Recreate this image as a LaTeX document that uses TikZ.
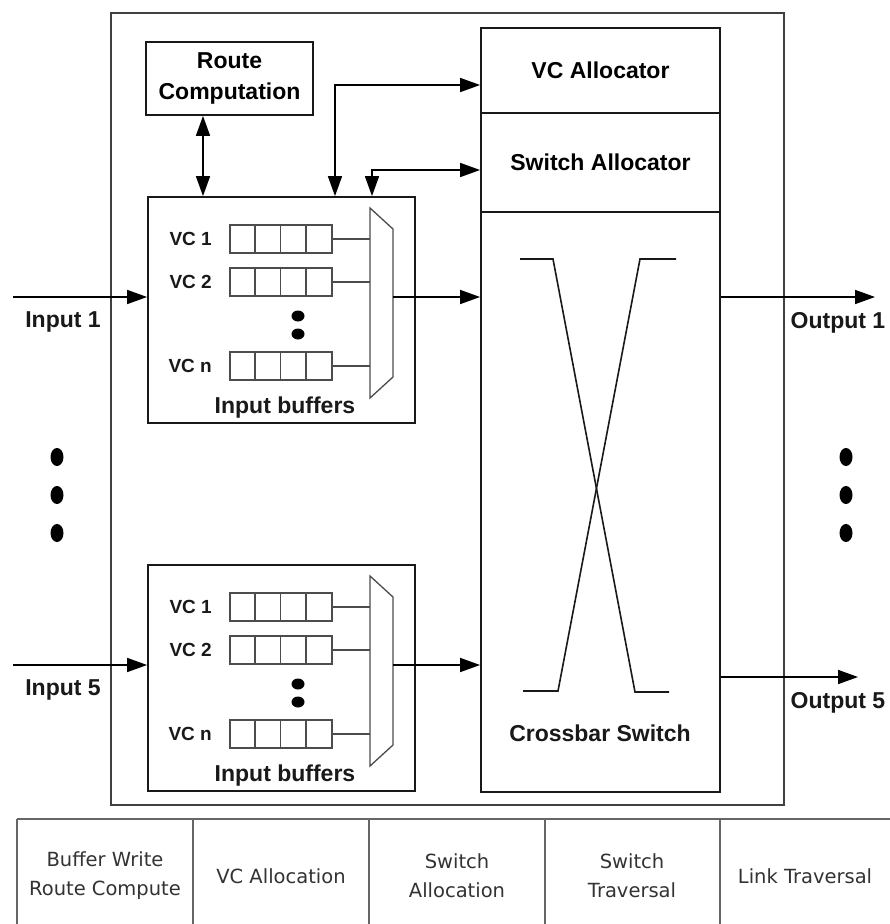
\documentclass[tikz,border=0pt]{standalone}
\usepackage{fontspec}
\setmainfont{Liberation Sans}
\newfontfamily\stagefont{DejaVu Sans}
\usetikzlibrary{positioning, calc, arrows.meta}

\newcommand{\lblfont}{\fontsize{23}{31}\selectfont\bfseries}
\newcommand{\vcfont}{\fontsize{19}{22}\selectfont\bfseries}

\begin{document}
\begin{tikzpicture}[x=1pt, y=-1pt,
    blockbox/.style={draw=black!90, line width=1.8pt, inner sep=0pt, align=center, font=\lblfont},
    queuebox/.style={draw=black!70, line width=1.3pt, minimum width=102pt, minimum height=28pt, inner sep=0pt},
    thinline/.style={draw=black!70, line width=1.3pt},
    wire/.style={draw=black!90, line width=1.6pt},
    tableline/.style={draw=black!60, line width=1.4pt},
    arrowline/.style={line width=1.6pt, -{Triangle[length=20pt,width=14pt]}},
    dblarrow/.style={line width=1.6pt, {Triangle[length=20pt,width=14pt]}-{Triangle[length=20pt,width=14pt]}},
    plainlabel/.style={font=\lblfont, inner sep=0pt, text=black!90},
    vclabel/.style={font=\vcfont, anchor=east, inner sep=0pt, text=black!90},
    stagecell/.style={font=\stagefont\fontsize{19.5}{29}\selectfont, text=black!80, align=center, inner sep=0pt}
  ]
  \useasboundingbox[fill=white] (0,0) rectangle (890,924);

  % Router
  \node[draw=black!75, line width=2.6pt, minimum width=673pt, minimum height=792pt, inner sep=0pt] (router) at (447.5,409) {};

  \node[blockbox, minimum width=167pt, minimum height=73pt] (route) at (229.5,78.5) {Route\\Computation};

  % Allocators and crossbar
  \node[blockbox, minimum width=239pt, minimum height=85pt] (vcalloc) at (600.5,70.5) {VC Allocator};
  \node[blockbox, minimum width=239pt, minimum height=99pt] (swalloc) at (600.5,162.5) {Switch Allocator};
  \node[blockbox, minimum width=239pt, minimum height=580pt] (xbar) at (600.5,502) {};
  \node[plainlabel] (xbarlbl) at (600,733) {Crossbar Switch};

  \draw[wire] (520,259) -- (553,259) -- (635,692) -- (669,692);
  \draw[wire] (676,259) -- (640,259) -- (558,691) -- (523,691);

  % Input ports
  \foreach \b/\oy/\n in {1/0/1, 2/368/5} {
    \node[blockbox, minimum width=267pt, minimum height=226pt] (buf\b) at (281.5,310+\oy) {};
    \node[plainlabel] (buflbl\b) at (285,408+\oy) {Input buffers};

    \foreach \r/\y/\txt in {1/239/VC 1, 2/282/VC 2, n/366/VC n} {
      \node[queuebox] (q\b\r) at (281,\y+\oy) {};
      \foreach \c in {1,2,3}
        \draw[thinline] ($(q\b\r.north west)+(\c*25.5,0)$) -- ($(q\b\r.south west)+(\c*25.5,0)$);
      \node[vclabel] (vc\b\r) at (212,\y+\oy) {\txt};
    }

    \fill (298,316+\oy) ellipse [x radius=6.5pt, y radius=5.5pt];
    \fill (298,334+\oy) ellipse [x radius=6.5pt, y radius=5.5pt];

    % mux
    \draw[thinline] (370,208+\oy) -- (393,229+\oy) -- (393,377+\oy) -- (370,398+\oy) -- cycle;
    \coordinate (muxin\b) at (370,297+\oy);
    \coordinate (muxout\b) at (393,297+\oy);
    \foreach \r in {1,2,n}
      \draw[thinline] (q\b\r.east) -- (q\b\r.east -| muxin\b);
    \draw[arrowline] (muxout\b) -- (muxout\b -| xbar.west);

    \coordinate (in\b) at (13,297+\oy);
    \draw[arrowline] (in\b) -- (in\b -| buf\b.west);
    \node[plainlabel] (inlbl\b) at (63,322+\oy) {Input \n};
  }

  % Output ports
  \foreach \p/\y/\len/\n in {1/297/875/1, 2/677/858/5} {
    \coordinate (out\p) at (\len,\y);
    \draw[arrowline] (out\p -| xbar.east) -- (out\p);
    \node[plainlabel] (outlbl\p) at (838,\y+26) {Output \n};
  }

  \foreach \y in {457,495,533} {
    \fill (57,\y) ellipse [x radius=6.5pt, y radius=9pt];
    \fill (846,\y) ellipse [x radius=6.5pt, y radius=9pt];
  }

  % Control paths
  \coordinate (rcx) at (203,0);
  \coordinate (vcbend) at (335,85);
  \coordinate (swbend) at (372,170);
  \draw[dblarrow] (route.south -| rcx) -- (buf1.north -| rcx);
  \draw[dblarrow] (buf1.north -| vcbend) -- (vcbend) -- (vcbend -| vcalloc.west);
  \draw[dblarrow] (buf1.north -| swbend) -- (swbend) -- (swbend -| swalloc.west);

  % Pipeline stages
  \draw[tableline] (17,819) -- (890,819);
  \foreach \x in {17,193,369,545,720}
    \draw[tableline] (\x,819) -- (\x,924);
  \foreach \i/\x/\txt in {1/105/{Buffer Write\\Route Compute}, 2/281/{VC Allocation}, 3/457/{Switch\\Allocation}, 4/632/{Switch\\Traversal}, 5/805/{Link Traversal}}
    \node[stagecell] (stage\i) at (\x,876) {\txt};
\end{tikzpicture}
\end{document}
